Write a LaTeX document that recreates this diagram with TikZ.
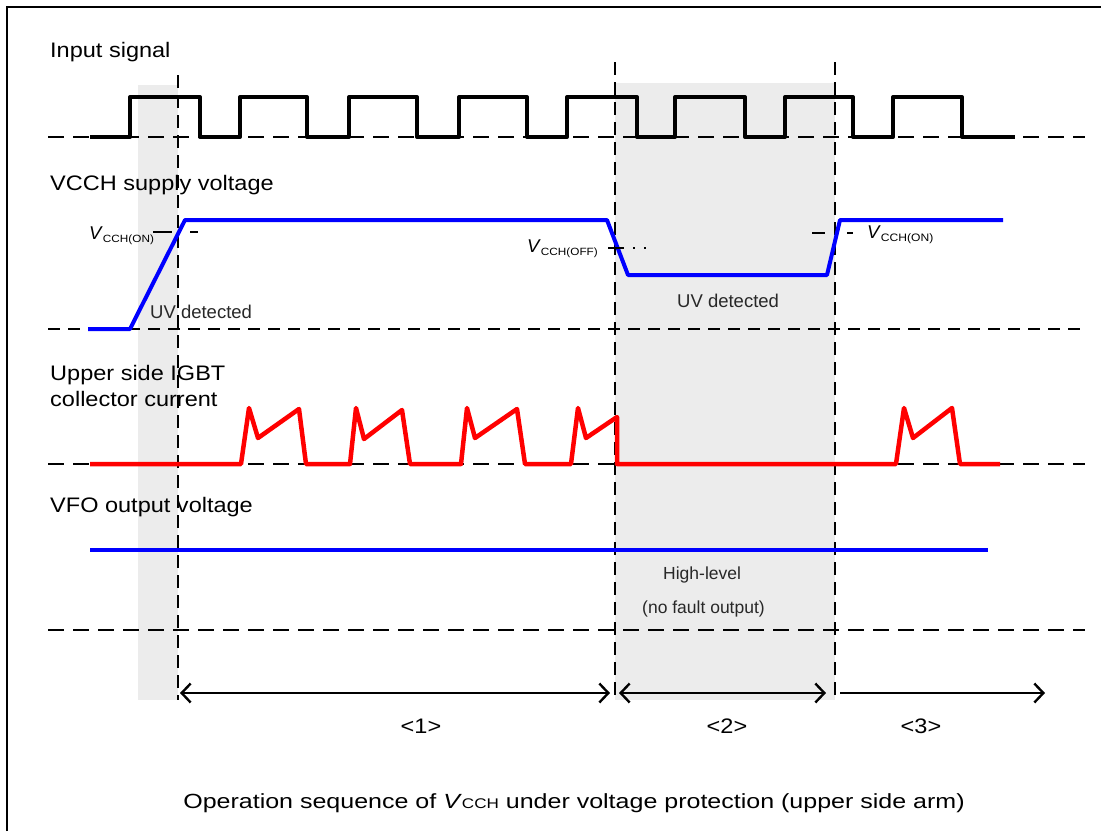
\documentclass[tikz,border=0pt]{standalone}
\usepackage{fontspec}
\setmainfont{Liberation Sans}
\newfontfamily\lblfont{Liberation Sans}[FakeStretch=1.12]
\newfontfamily\capfont{Liberation Sans}[FakeStretch=1.22]
\usetikzlibrary{arrows.meta}
\definecolor{sigblue}{RGB}{0,0,255}
\definecolor{sigred}{RGB}{255,0,0}
\definecolor{shadegray}{RGB}{236,236,236}
\definecolor{txtgray}{RGB}{40,40,40}
\tikzset{
  shadebox/.style={fill=shadegray, draw=none},
  baseline dash/.style={black, line width=2pt, dash pattern=on 16pt off 9pt},
  fine dash/.style={black, line width=1.6pt, dash pattern=on 12pt off 8pt},
  vdash/.style={black, line width=1.8pt, dash pattern=on 13pt off 7pt},
  wave/.style={line width=4pt, line join=round},
  lbl/.style={inner sep=0pt, font=\lblfont\fontsize{21}{25}\selectfont, text=black},
  small lbl/.style={inner sep=0pt, font=\fontsize{18.5}{22}\selectfont, text=txtgray},
  note lbl/.style={inner sep=0pt, font=\fontsize{17.5}{21}\selectfont, text=txtgray},
  vlbl/.style={inner sep=0pt, font=\fontsize{18.5}{20}\selectfont, text=black},
  chev/.tip={Straight Barb[length=9pt,width=19pt,line width=2.4pt]},
  span thin/.style={line width=1.5pt, black},
  span thick/.style={line width=2pt, black},
}
\newcommand{\vsub}[2]{\textit{V}\raisebox{-3pt}{\lblfont\fontsize{#2}{#2}\selectfont #1}}
\begin{document}
\begin{tikzpicture}[x=1pt,y=-1pt]
\useasboundingbox (0,0) rectangle (1101,831);
% shading
\fill[shadebox] (138,85) rectangle (178,700);
\fill[shadebox] (615,83) rectangle (835,700);
% border
\draw[line width=1.6pt] (7,831) -- (7,7) -- (1101,7);
% baselines
\draw[baseline dash] (48,137) -- (1085,137);
\draw[fine dash] (48,329) -- (1085,329);
\draw[baseline dash] (48,464) -- (1085,464);
\draw[baseline dash] (48,630) -- (1085,630);
% vertical dashed lines
\draw[vdash] (178,75) -- (178,700);
\draw[vdash] (615,62) -- (615,700);
\draw[vdash] (835,62) -- (835,700);
% input signal
\draw[wave, black] (90,137) -| (130,97) -| (200,137) -| (240,97) -| (307,137)
  -| (349,97) -| (417,137) -| (459,97) -| (527,137) -| (567,97) -| (637,137)
  -| (675,97) -| (745,137) -| (785,97) -| (853,137) -| (893,97) -| (962,137) -- (1015,137);
% VCCH
\draw[wave, sigblue] (88,329) -- (130,329) -- (185,220) -- (607,220) -- (628,275)
  -- (827,275) -- (840,220) -- (1003,220);
% reference levels
\draw[black, line width=1.5pt, dash pattern=on 19pt off 18pt on 8pt off 20pt] (153,232) -- (198,232);
\draw[black, line width=1.5pt, dash pattern=on 16pt off 9pt on 2pt off 9pt on 2pt off 20pt] (608,248) -- (648,248);
\draw[black, line width=1.5pt, dash pattern=on 13pt off 22pt on 6pt off 20pt] (812,233) -- (853,233);
% collector current
\draw[wave, sigred, line width=4.5pt] (90,464) -- (241,464) -- (249,408) -- (258,438) -- (299,409) -- (306,464)
  -- (350,464) -- (356,408) -- (364,439) -- (402,410) -- (410,464)
  -- (461,464) -- (467,408) -- (475,438) -- (517,409) -- (525,464)
  -- (571,464) -- (578,408) -- (586,438) -- (617,417) -- (617,464)
  -- (896,464) -- (904,408) -- (913,438) -- (952,408) -- (960,464) -- (1000,464);
% VFO
\draw[wave, sigblue] (90,550) -- (988,550);
% labels
\node[lbl, anchor=base west] (tin) at (50,57) {Input signal};
\node[lbl, anchor=base west] (tvcc) at (50,190) {VCCH supply voltage};
\node[lbl, anchor=base west] (tup1) at (50,380) {Upper side IGBT};
\node[lbl, anchor=base west] (tup2) at (50,406) {collector current};
\node[lbl, anchor=base west] (tvfo) at (50,512) {VFO output voltage};
\node[vlbl, anchor=base west] (von1) at (89,239) {\vsub{CCH(ON)}{10.5}};
\node[vlbl, anchor=base west] (voff) at (527,252) {\vsub{CCH(OFF)}{10.5}};
\node[vlbl, anchor=base west] (von2) at (867,238) {\vsub{CCH(ON)}{10.8}};
\node[small lbl, anchor=base west] (uv1) at (150,318) {UV detected};
\node[small lbl, anchor=base west] (uv2) at (677,307) {UV detected};
\node[note lbl, anchor=base west] (hl) at (663,579) {High-level};
\node[note lbl, anchor=base west] (nf) at (642,613) {(no fault output)};
% spans
\coordinate (s1l) at (180,693);
\coordinate (s1r) at (610,693);
\coordinate (s2l) at (619,693);
\coordinate (s2r) at (826,693);
\coordinate (s3l) at (840,693);
\coordinate (s3r) at (1045,693);
\draw[span thin, chev-chev] (s1l) -- (s1r);
\draw[span thick, chev-chev] (s2l) -- (s2r);
\draw[span thin, -chev] (s3l) -- (s3r);
\node[lbl, anchor=base] (p1) at (421,733) {<1>};
\node[lbl, anchor=base] (p2) at (727,733) {<2>};
\node[lbl, anchor=base] (p3) at (921,733) {<3>};
% caption
\node[inner sep=0pt, anchor=base, font=\capfont\fontsize{20.5}{24}\selectfont] (cap) at (574,808)
  {Operation sequence of \textit{V}{\fontsize{14}{14}\selectfont CCH} under voltage protection (upper side arm)};
\end{tikzpicture}
\end{document}
